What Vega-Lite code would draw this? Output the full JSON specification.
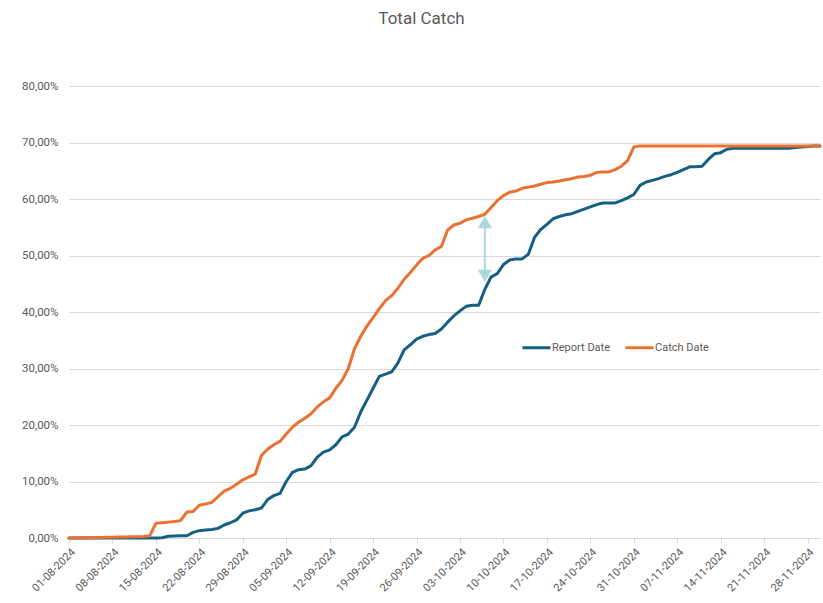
{
  "$schema": "https://vega.github.io/schema/vega-lite/v6.json",
  "width": 751,
  "height": 452,
  "autosize": {"type": "none"},
  "padding": {"left": 69, "top": 86, "right": 3, "bottom": 65},
  "background": "white",
  "config": {
    "locale": {
      "number": {"decimal": ",", "thousands": ".", "grouping": [3], "currency": ["", " €"]}
    },
    "view": {"stroke": null},
    "font": "Roboto"
  },
  "title": {
    "text": "Total Catch",
    "fontSize": 17,
    "fontWeight": "normal",
    "color": "#595959",
    "font": "Roboto",
    "anchor": "middle",
    "frame": "group",
    "dx": -23,
    "offset": 52
  },
  "datasets": {
    "series": [
      {"date": "2024-08-01", "Report Date": 0, "Catch Date": 0},
      {"date": "2024-08-02", "Report Date": 0, "Catch Date": 0.0002},
      {"date": "2024-08-03", "Report Date": 0, "Catch Date": 0.0004},
      {"date": "2024-08-04", "Report Date": 0, "Catch Date": 0.0006},
      {"date": "2024-08-05", "Report Date": 0, "Catch Date": 0.0008},
      {"date": "2024-08-06", "Report Date": 0, "Catch Date": 0.001},
      {"date": "2024-08-07", "Report Date": 0, "Catch Date": 0.0012},
      {"date": "2024-08-08", "Report Date": 0, "Catch Date": 0.0014},
      {"date": "2024-08-09", "Report Date": 0, "Catch Date": 0.0016},
      {"date": "2024-08-10", "Report Date": 0, "Catch Date": 0.0018},
      {"date": "2024-08-11", "Report Date": 0, "Catch Date": 0.002},
      {"date": "2024-08-12", "Report Date": 0, "Catch Date": 0.0022},
      {"date": "2024-08-13", "Report Date": 0, "Catch Date": 0.0025},
      {"date": "2024-08-14", "Report Date": 0, "Catch Date": 0.004},
      {"date": "2024-08-15", "Report Date": 0, "Catch Date": 0.026},
      {"date": "2024-08-16", "Report Date": 0.0005, "Catch Date": 0.027},
      {"date": "2024-08-17", "Report Date": 0.003, "Catch Date": 0.028},
      {"date": "2024-08-18", "Report Date": 0.0035, "Catch Date": 0.029},
      {"date": "2024-08-19", "Report Date": 0.004, "Catch Date": 0.031},
      {"date": "2024-08-20", "Report Date": 0.004, "Catch Date": 0.046},
      {"date": "2024-08-21", "Report Date": 0.010, "Catch Date": 0.047},
      {"date": "2024-08-22", "Report Date": 0.013, "Catch Date": 0.058},
      {"date": "2024-08-23", "Report Date": 0.014, "Catch Date": 0.060},
      {"date": "2024-08-24", "Report Date": 0.015, "Catch Date": 0.063},
      {"date": "2024-08-25", "Report Date": 0.017, "Catch Date": 0.073},
      {"date": "2024-08-26", "Report Date": 0.023, "Catch Date": 0.083},
      {"date": "2024-08-27", "Report Date": 0.027, "Catch Date": 0.088},
      {"date": "2024-08-28", "Report Date": 0.032, "Catch Date": 0.095},
      {"date": "2024-08-29", "Report Date": 0.044, "Catch Date": 0.103},
      {"date": "2024-08-30", "Report Date": 0.048, "Catch Date": 0.108},
      {"date": "2024-08-31", "Report Date": 0.050, "Catch Date": 0.113},
      {"date": "2024-09-01", "Report Date": 0.053, "Catch Date": 0.146},
      {"date": "2024-09-02", "Report Date": 0.068, "Catch Date": 0.157},
      {"date": "2024-09-03", "Report Date": 0.075, "Catch Date": 0.165},
      {"date": "2024-09-04", "Report Date": 0.079, "Catch Date": 0.171},
      {"date": "2024-09-05", "Report Date": 0.100, "Catch Date": 0.184},
      {"date": "2024-09-06", "Report Date": 0.116, "Catch Date": 0.196},
      {"date": "2024-09-07", "Report Date": 0.121, "Catch Date": 0.205},
      {"date": "2024-09-08", "Report Date": 0.122, "Catch Date": 0.212},
      {"date": "2024-09-09", "Report Date": 0.128, "Catch Date": 0.220},
      {"date": "2024-09-10", "Report Date": 0.143, "Catch Date": 0.232},
      {"date": "2024-09-11", "Report Date": 0.152, "Catch Date": 0.241},
      {"date": "2024-09-12", "Report Date": 0.156, "Catch Date": 0.248},
      {"date": "2024-09-13", "Report Date": 0.165, "Catch Date": 0.265},
      {"date": "2024-09-14", "Report Date": 0.179, "Catch Date": 0.279},
      {"date": "2024-09-15", "Report Date": 0.184, "Catch Date": 0.300},
      {"date": "2024-09-16", "Report Date": 0.196, "Catch Date": 0.335},
      {"date": "2024-09-17", "Report Date": 0.223, "Catch Date": 0.357},
      {"date": "2024-09-18", "Report Date": 0.244, "Catch Date": 0.375},
      {"date": "2024-09-19", "Report Date": 0.265, "Catch Date": 0.390},
      {"date": "2024-09-20", "Report Date": 0.286, "Catch Date": 0.406},
      {"date": "2024-09-21", "Report Date": 0.290, "Catch Date": 0.420},
      {"date": "2024-09-22", "Report Date": 0.294, "Catch Date": 0.429},
      {"date": "2024-09-23", "Report Date": 0.310, "Catch Date": 0.442},
      {"date": "2024-09-24", "Report Date": 0.333, "Catch Date": 0.458},
      {"date": "2024-09-25", "Report Date": 0.342, "Catch Date": 0.470},
      {"date": "2024-09-26", "Report Date": 0.352, "Catch Date": 0.483},
      {"date": "2024-09-27", "Report Date": 0.357, "Catch Date": 0.495},
      {"date": "2024-09-28", "Report Date": 0.360, "Catch Date": 0.500},
      {"date": "2024-09-29", "Report Date": 0.362, "Catch Date": 0.510},
      {"date": "2024-09-30", "Report Date": 0.370, "Catch Date": 0.516},
      {"date": "2024-10-01", "Report Date": 0.382, "Catch Date": 0.545},
      {"date": "2024-10-02", "Report Date": 0.393, "Catch Date": 0.554},
      {"date": "2024-10-03", "Report Date": 0.402, "Catch Date": 0.557},
      {"date": "2024-10-04", "Report Date": 0.410, "Catch Date": 0.563},
      {"date": "2024-10-05", "Report Date": 0.412, "Catch Date": 0.566},
      {"date": "2024-10-06", "Report Date": 0.412, "Catch Date": 0.569},
      {"date": "2024-10-07", "Report Date": 0.440, "Catch Date": 0.573},
      {"date": "2024-10-08", "Report Date": 0.462, "Catch Date": 0.585},
      {"date": "2024-10-09", "Report Date": 0.468, "Catch Date": 0.597},
      {"date": "2024-10-10", "Report Date": 0.484, "Catch Date": 0.606},
      {"date": "2024-10-11", "Report Date": 0.492, "Catch Date": 0.612},
      {"date": "2024-10-12", "Report Date": 0.494, "Catch Date": 0.614},
      {"date": "2024-10-13", "Report Date": 0.494, "Catch Date": 0.619},
      {"date": "2024-10-14", "Report Date": 0.502, "Catch Date": 0.621},
      {"date": "2024-10-15", "Report Date": 0.532, "Catch Date": 0.623},
      {"date": "2024-10-16", "Report Date": 0.546, "Catch Date": 0.626},
      {"date": "2024-10-17", "Report Date": 0.555, "Catch Date": 0.629},
      {"date": "2024-10-18", "Report Date": 0.565, "Catch Date": 0.630},
      {"date": "2024-10-19", "Report Date": 0.569, "Catch Date": 0.632},
      {"date": "2024-10-20", "Report Date": 0.572, "Catch Date": 0.634},
      {"date": "2024-10-21", "Report Date": 0.574, "Catch Date": 0.636},
      {"date": "2024-10-22", "Report Date": 0.578, "Catch Date": 0.639},
      {"date": "2024-10-23", "Report Date": 0.582, "Catch Date": 0.640},
      {"date": "2024-10-24", "Report Date": 0.586, "Catch Date": 0.642},
      {"date": "2024-10-25", "Report Date": 0.590, "Catch Date": 0.647},
      {"date": "2024-10-26", "Report Date": 0.593, "Catch Date": 0.648},
      {"date": "2024-10-27", "Report Date": 0.593, "Catch Date": 0.648},
      {"date": "2024-10-28", "Report Date": 0.593, "Catch Date": 0.652},
      {"date": "2024-10-29", "Report Date": 0.597, "Catch Date": 0.658},
      {"date": "2024-10-30", "Report Date": 0.602, "Catch Date": 0.668},
      {"date": "2024-10-31", "Report Date": 0.608, "Catch Date": 0.692},
      {"date": "2024-11-01", "Report Date": 0.624, "Catch Date": 0.694},
      {"date": "2024-11-02", "Report Date": 0.630, "Catch Date": 0.694},
      {"date": "2024-11-03", "Report Date": 0.633, "Catch Date": 0.694},
      {"date": "2024-11-04", "Report Date": 0.636, "Catch Date": 0.694},
      {"date": "2024-11-05", "Report Date": 0.640, "Catch Date": 0.694},
      {"date": "2024-11-06", "Report Date": 0.643, "Catch Date": 0.694},
      {"date": "2024-11-07", "Report Date": 0.647, "Catch Date": 0.694},
      {"date": "2024-11-08", "Report Date": 0.652, "Catch Date": 0.694},
      {"date": "2024-11-09", "Report Date": 0.657, "Catch Date": 0.694},
      {"date": "2024-11-10", "Report Date": 0.657, "Catch Date": 0.694},
      {"date": "2024-11-11", "Report Date": 0.658, "Catch Date": 0.694},
      {"date": "2024-11-12", "Report Date": 0.670, "Catch Date": 0.694},
      {"date": "2024-11-13", "Report Date": 0.680, "Catch Date": 0.694},
      {"date": "2024-11-14", "Report Date": 0.682, "Catch Date": 0.694},
      {"date": "2024-11-15", "Report Date": 0.688, "Catch Date": 0.694},
      {"date": "2024-11-16", "Report Date": 0.690, "Catch Date": 0.694},
      {"date": "2024-11-17", "Report Date": 0.690, "Catch Date": 0.694},
      {"date": "2024-11-18", "Report Date": 0.690, "Catch Date": 0.694},
      {"date": "2024-11-19", "Report Date": 0.690, "Catch Date": 0.694},
      {"date": "2024-11-20", "Report Date": 0.690, "Catch Date": 0.694},
      {"date": "2024-11-21", "Report Date": 0.690, "Catch Date": 0.694},
      {"date": "2024-11-22", "Report Date": 0.690, "Catch Date": 0.694},
      {"date": "2024-11-23", "Report Date": 0.690, "Catch Date": 0.694},
      {"date": "2024-11-24", "Report Date": 0.690, "Catch Date": 0.694},
      {"date": "2024-11-25", "Report Date": 0.690, "Catch Date": 0.694},
      {"date": "2024-11-26", "Report Date": 0.691, "Catch Date": 0.694},
      {"date": "2024-11-27", "Report Date": 0.692, "Catch Date": 0.694},
      {"date": "2024-11-28", "Report Date": 0.693, "Catch Date": 0.694},
      {"date": "2024-11-29", "Report Date": 0.694, "Catch Date": 0.694},
      {"date": "2024-11-30", "Report Date": 0.694, "Catch Date": 0.694}
    ],
    "arrowShaft": [
      {"date": "2024-10-07", "y": 0.553, "y2": 0.470}
    ],
    "arrowHeads": [
      {"date": "2024-10-07", "y": 0.559, "dir": "up"},
      {"date": "2024-10-07", "y": 0.464, "dir": "down"}
    ]
  },
  "layer": [
    {
      "data": {"name": "series"},
      "transform": [{"fold": ["Report Date", "Catch Date"], "as": ["series", "value"]}],
      "mark": {"type": "line", "strokeWidth": 3, "strokeCap": "round", "strokeJoin": "round"},
      "encoding": {
        "x": {
          "field": "date",
          "type": "temporal",
          "scale": {
            "type": "utc",
            "nice": false,
            "domain": [
              {"year": 2024, "month": 8, "date": 1, "utc": true},
              {"year": 2024, "month": 11, "date": 30, "utc": true}
            ]
          },
          "axis": {
            "title": null,
            "format": "%d-%m-%Y",
            "values": [
              {"year": 2024, "month": 8, "date": 1, "utc": true},
              {"year": 2024, "month": 8, "date": 8, "utc": true},
              {"year": 2024, "month": 8, "date": 15, "utc": true},
              {"year": 2024, "month": 8, "date": 22, "utc": true},
              {"year": 2024, "month": 8, "date": 29, "utc": true},
              {"year": 2024, "month": 9, "date": 5, "utc": true},
              {"year": 2024, "month": 9, "date": 12, "utc": true},
              {"year": 2024, "month": 9, "date": 19, "utc": true},
              {"year": 2024, "month": 9, "date": 26, "utc": true},
              {"year": 2024, "month": 10, "date": 3, "utc": true},
              {"year": 2024, "month": 10, "date": 10, "utc": true},
              {"year": 2024, "month": 10, "date": 17, "utc": true},
              {"year": 2024, "month": 10, "date": 24, "utc": true},
              {"year": 2024, "month": 10, "date": 31, "utc": true},
              {"year": 2024, "month": 11, "date": 7, "utc": true},
              {"year": 2024, "month": 11, "date": 14, "utc": true},
              {"year": 2024, "month": 11, "date": 21, "utc": true},
              {"year": 2024, "month": 11, "date": 28, "utc": true}
            ],
            "labelAngle": -45,
            "labelFontSize": 11,
            "labelColor": "#595959",
            "labelFont": "Roboto",
            "labelPadding": 3,
            "labelOverlap": false,
            "labelFlush": false,
            "labelBound": false,
            "grid": false,
            "domainColor": "#d9d9d9",
            "domainWidth": 1,
            "tickColor": "#d9d9d9",
            "tickSize": 5
          }
        },
        "y": {
          "field": "value",
          "type": "quantitative",
          "scale": {"domain": [0, 0.8], "nice": false, "zero": true},
          "axis": {
            "title": null,
            "format": ".2%",
            "values": [0, 0.1, 0.2, 0.3, 0.4, 0.5, 0.6, 0.7, 0.8],
            "domain": false,
            "ticks": false,
            "labelFontSize": 11.5,
            "labelColor": "#595959",
            "labelFont": "Roboto",
            "labelPadding": 11,
            "gridColor": "#d9d9d9",
            "gridWidth": 1
          }
        },
        "color": {
          "field": "series",
          "type": "nominal",
          "sort": ["Report Date", "Catch Date"],
          "scale": {"domain": ["Report Date", "Catch Date"], "range": ["#156082", "#E97132"]},
          "legend": {
            "title": null,
            "orient": "none",
            "direction": "horizontal",
            "legendX": 452,
            "legendY": 246,
            "symbolType": "stroke",
            "symbolSize": 784,
            "symbolStrokeWidth": 3,
            "labelFontSize": 11,
            "labelColor": "#595959",
            "labelFont": "Roboto",
            "labelOffset": 0,
            "columnPadding": 8,
            "padding": 0
          }
        }
      }
    },
    {
      "data": {"name": "arrowShaft"},
      "mark": {"type": "rule", "color": "#aad8dc", "strokeWidth": 2},
      "encoding": {
        "x": {"field": "date", "type": "temporal"},
        "y": {"field": "y", "type": "quantitative"},
        "y2": {"field": "y2"}
      }
    },
    {
      "data": {"name": "arrowHeads"},
      "mark": {"type": "point", "filled": true, "color": "#aad8dc", "opacity": 1, "size": 200},
      "encoding": {
        "x": {"field": "date", "type": "temporal"},
        "y": {"field": "y", "type": "quantitative"},
        "shape": {
          "field": "dir",
          "type": "nominal",
          "scale": {"domain": ["up", "down"], "range": ["triangle-up", "triangle-down"]},
          "legend": null
        }
      }
    }
  ]
}
